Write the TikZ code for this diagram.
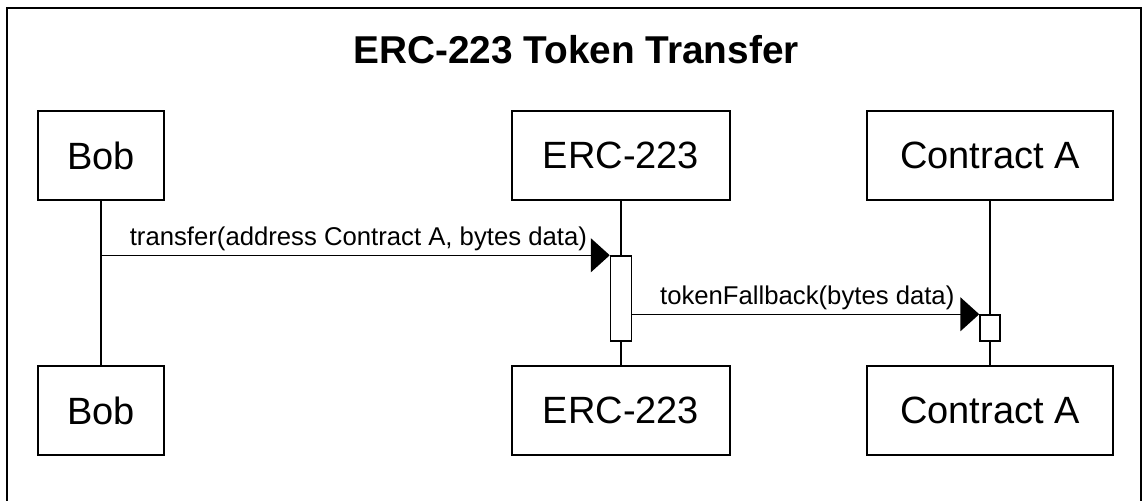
\documentclass[tikz,border=0pt]{standalone}
\usepackage{fontspec}
\setmainfont{Liberation Sans}
\usetikzlibrary{arrows.meta}
\begin{document}
\begin{tikzpicture}[x=1pt,y=-1pt,
  actor/.style={draw, line width=1.5pt, fill=white, minimum height=89pt, inner sep=0pt,
    font=\fontsize{38}{44}\selectfont},
  actbox/.style={draw, line width=1.5pt, fill=white, inner sep=0pt},
  lifeline/.style={line width=1.5pt},
  msg/.style={line width=1.5pt, -{Triangle[length=19pt,width=34pt]}},
  msglabel/.style={anchor=base, yshift=10pt, inner sep=0pt, font=\fontsize{25.7}{30}\selectfont}
]
\useasboundingbox (0,0) rectangle (1144,501);
\fill[white] (0,0) rectangle (1144,501);
\draw[line width=2.5pt] (7,505) -- (7,8) -- (1141,8) -- (1141,505);

\node[anchor=base, font=\bfseries\fontsize{38.8}{44}\selectfont] (title) at (576,63) {ERC-223 Token Transfer};

\node[actor, minimum width=126pt] (bobT) at (101,155.5) {Bob};
\node[actor, minimum width=218pt] (ercT) at (621,155.5) {ERC-223};
\node[actor, minimum width=246pt] (conT) at (990,155.5) {Contract A};
\node[actor, minimum width=126pt] (bobB) at (101,410.5) {Bob};
\node[actor, minimum width=218pt] (ercB) at (621,410.5) {ERC-223};
\node[actor, minimum width=246pt] (conB) at (990,410.5) {Contract A};

\draw[lifeline] (bobT.south) -- (bobB.north);
\draw[lifeline] (ercT.south) -- (ercB.north);
\draw[lifeline] (conT.south) -- (conB.north);

\node[actbox, minimum width=21pt, minimum height=85pt] (actE) at (621,298.5) {};
\node[actbox, minimum width=20pt, minimum height=26pt] (actC) at (990,328) {};

\draw[msg] (bobT.south |- actE.north west) -- node[msglabel, xshift=3pt] (m1) {transfer(address Contract A, bytes data)} (actE.north west);
\draw[msg] (actE.east |- actC.north west) -- node[msglabel, xshift=1.5pt] (m2) {tokenFallback(bytes data)} (actC.north west);
\end{tikzpicture}
\end{document}
